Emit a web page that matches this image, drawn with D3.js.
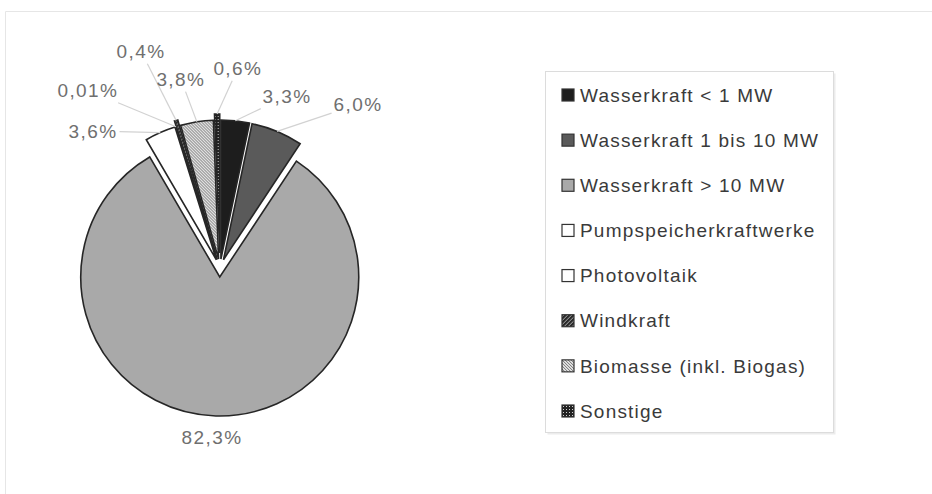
<!DOCTYPE html>
<html>
<head>
<meta charset="utf-8">
<script src="https://cdn.jsdelivr.net/npm/d3@7"></script>
<style>
  html, body { margin: 0; padding: 0; background: #fff; }
  svg { display: block; font-family: "Liberation Sans", Arial, Helvetica, sans-serif; }
</style>
</head>
<body>
<svg id="chart" width="932" height="494"></svg>
<script>
// Anteile der Stromerzeugung nach Energieträger (in %)
const categories = [
  "Wasserkraft < 1 MW",
  "Wasserkraft 1 bis 10 MW",
  "Wasserkraft > 10 MW",
  "Pumpspeicherkraftwerke",
  "Photovoltaik",
  "Windkraft",
  "Biomasse (inkl. Biogas)",
  "Sonstige"
];
const shares = [3.3, 6.0, 82.3, 3.6, 0.01, 0.4, 3.8, 0.6];

// Darstellung
const fills = ["#1d1d1d", "#5a5a5a", "#a9a9a9", "#ffffff", "#ffffff", "url(#pat-wind)", "url(#pat-bio)", "url(#pat-sonst)"];
const explode = [9, 9, 9, 9, 9, 15, 9, 15];
// Lage der Datenbeschriftungen: Winkel (Grad, im Uhrzeigersinn ab 12 Uhr) und Abstand zur Kreismitte
const labelAngle = [21.3, 40.1, 182.7, -42.8, -36.6, -20.0, -11.7, 5.1];
const labelDist  = [184.6, 214.3, 169.2, 186.8, 221.6, 230.9, 193, 200.8];

const W = 932, H = 494;
const cx = 220, cy = 268, R = 139;

const svg = d3.select("#chart");

// Schraffuren
const defs = svg.append("defs");
const pWind = defs.append("pattern").attr("id", "pat-wind")
  .attr("patternUnits", "userSpaceOnUse").attr("width", 4).attr("height", 4);
pWind.append("rect").attr("width", 4).attr("height", 4).attr("fill", "#2a2a2a");
pWind.append("path").attr("d", "M-1,1 L1,-1 M0,4 L4,0 M3,5 L5,3").attr("stroke", "#bdbdbd").attr("stroke-width", 0.9);

const pBio = defs.append("pattern").attr("id", "pat-bio")
  .attr("patternUnits", "userSpaceOnUse").attr("width", 3).attr("height", 3);
pBio.append("rect").attr("width", 3).attr("height", 3).attr("fill", "#e4e4e4");
pBio.append("path").attr("d", "M-1,-1 L4,4 M-1,2 L1,4 M2,-1 L4,1").attr("stroke", "#555").attr("stroke-width", 0.8);

const pSon = defs.append("pattern").attr("id", "pat-sonst")
  .attr("patternUnits", "userSpaceOnUse").attr("width", 3).attr("height", 3);
pSon.append("rect").attr("width", 3).attr("height", 3).attr("fill", "#222");
pSon.append("rect").attr("x", 1).attr("y", 1).attr("width", 1).attr("height", 1).attr("fill", "#d0d0d0");

// Rahmen der Diagrammfläche (oben und links)
svg.append("path").attr("d", `M5.5,${H} V11.5 H${W}`)
  .attr("fill", "none").attr("stroke", "#e6e6e6");

const fmt = v => (v < 0.1 ? v.toFixed(2) : v.toFixed(1)).replace(".", ",") + "%";

const arcs = d3.pie().sort(null).value(d => d)(shares);
const arcGen = d3.arc().innerRadius(0).outerRadius(R);

const offset = (a, dist) => [Math.sin(a) * dist, -Math.cos(a) * dist];

const pieG = svg.append("g").attr("transform", `translate(${cx},${cy})`);

// größtes Segment zuerst, damit die schmalen darüber liegen
const drawOrder = d3.range(arcs.length).sort((a, b) => shares[b] - shares[a]);

pieG.selectAll("path.slice")
  .data(drawOrder.map(i => arcs[i]))
  .join("path")
  .attr("class", "slice")
  .attr("transform", d => {
    const mid = (d.startAngle + d.endAngle) / 2;
    const [dx, dy] = offset(mid, explode[d.index]);
    return `translate(${dx},${dy})`;
  })
  .attr("d", arcGen)
  .attr("fill", d => fills[d.index])
  .attr("stroke", "#262626")
  .attr("stroke-width", 1.6)
  .attr("stroke-linejoin", "miter");

// Datenbeschriftungen mit Führungslinien
const labG = svg.append("g");
arcs.forEach((d, i) => {
  const a = labelAngle[i] * Math.PI / 180;
  const [lx, ly] = offset(a, labelDist[i]);
  const x = cx + lx, y = cy + ly;
  const t = labG.append("text")
    .attr("x", x).attr("y", y).attr("dy", "0.35em")
    .attr("text-anchor", "middle")
    .attr("font-size", 19)
    .attr("letter-spacing", 1.4)
    .attr("fill", "#6f6f6f")
    .text(fmt(shares[i]));
  const bb = t.node().getBBox();
  const mid = (d.startAngle + d.endAngle) / 2;
  const [tx, ty] = offset(mid, explode[i] + R);
  const px = cx + tx, py = cy + ty;
  // Start der Linie am Rand des Beschriftungsfeldes
  const pad = 2;
  const x0 = bb.x - pad, x1 = bb.x + bb.width + pad, y0 = bb.y - pad, y1 = bb.y + bb.height + pad;
  const ccx = bb.x + bb.width / 2, ccy = bb.y + bb.height / 2;
  const vx = px - ccx, vy = py - ccy;
  let s = Infinity;
  if (vx !== 0) s = Math.min(s, ((vx > 0 ? x1 : x0) - ccx) / vx);
  if (vy !== 0) s = Math.min(s, ((vy > 0 ? y1 : y0) - ccy) / vy);
  const sx = ccx + vx * s, sy = ccy + vy * s;
  if (Math.hypot(px - sx, py - sy) > 20) {
    labG.insert("line", "text")
      .attr("x1", sx).attr("y1", sy).attr("x2", px).attr("y2", py)
      .attr("stroke", "#d2d2d2").attr("stroke-width", 1.2);
  }
});

// Legende
const legX = 545.5, legY = 71.5, legW = 288, legH = 361;
svg.append("rect").attr("x", legX + 2).attr("y", legY + 2).attr("width", legW).attr("height", legH)
  .attr("fill", "#ececec");
svg.append("rect").attr("x", legX).attr("y", legY).attr("width", legW).attr("height", legH)
  .attr("fill", "#fff").attr("stroke", "#dcdcdc");

const rowY = d3.scalePoint().domain(categories).range([95, 411]);
const leg = svg.append("g").selectAll("g").data(categories).join("g")
  .attr("transform", d => `translate(562,${rowY(d)})`);
leg.append("rect")
  .attr("x", 0).attr("y", -6).attr("width", 12).attr("height", 12)
  .attr("fill", (d, i) => fills[i])
  .attr("stroke", "#333").attr("stroke-width", 1.2);
leg.append("text")
  .attr("x", 18).attr("dy", "0.35em")
  .attr("font-size", 19)
  .attr("letter-spacing", 1.2)
  .attr("fill", "#3a3a3a")
  .text(d => d);
</script>
</body>
</html>
